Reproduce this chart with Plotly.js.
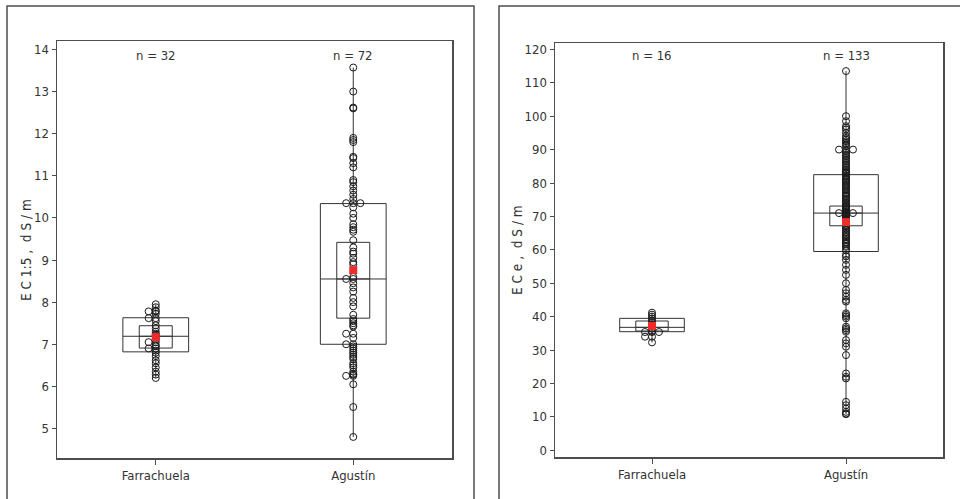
<!DOCTYPE html>
<html>
<head>
<meta charset="utf-8">
<script src="https://cdn.plot.ly/plotly-3.0.1.min.js"></script>
<style>
  html, body { margin: 0; padding: 0; background: #fff; }
  #chart { width: 960px; height: 499px; }
</style>
</head>
<body>
<div id="chart"></div>
<script>
// Site categories (shared by both panels)
const sites = ['Farrachuela', 'Agustín'];

// ---- Panel 1: EC 1:5 (dS/m) individual values ----
const ec15Farrachuela = [7.95, 7.88, 7.8, 7.78, 7.78, 7.72, 7.62, 7.62, 7.55, 7.45, 7.38, 7.3,
  7.25, 7.22, 7.2, 7.18, 7.12, 7.05, 7.05, 6.98, 6.95, 6.9, 6.9, 6.85, 6.8, 6.72, 6.62, 6.55,
  6.45, 6.35, 6.28, 6.2];
const ec15Agustin = [13.57, 13.0, 12.62, 12.6, 11.9, 11.85, 11.8, 11.45, 11.42, 11.3, 11.2,
  10.9, 10.85, 10.75, 10.65, 10.55, 10.45, 10.35, 10.35, 10.35,
  10.25, 10.1, 10.0, 9.85, 9.78, 9.72, 9.67, 9.47, 9.3, 9.2, 9.15, 9.05, 8.95, 8.9, 8.6, 8.55, 8.55,
  8.45, 8.35, 8.25, 8.1, 8.0, 7.9, 7.7, 7.6, 7.55, 7.5, 7.45, 7.42, 7.25, 7.25, 7.15, 7.0, 7.0,
  6.95, 6.9, 6.85, 6.8, 6.75, 6.7, 6.65, 6.55, 6.5, 6.45, 6.35, 6.3, 6.28, 6.25, 6.25, 6.05, 5.51, 4.8];

// Box summaries per site: quartiles, median, median CI, mean, extremes
const ec15Q1 = [6.82, 7.0];
const ec15Median = [7.19, 8.55];
const ec15Q3 = [7.63, 10.34];
const ec15CiLow = [6.91, 7.62];
const ec15CiHigh = [7.44, 9.42];
const ec15Mean = [7.17, 8.76];
const ec15Min = [6.2, 4.8];
const ec15Max = [7.95, 13.57];

// ---- Panel 2: ECe (dS/m) individual values ----
const eceFarrachuela = [41.2, 40.6, 40.0, 39.4, 38.8, 38.2, 37.6, 37.0, 36.4, 35.6, 35.4, 35.4,
  35.4, 34.0, 34.0, 32.3];
const eceAgustin = [
  113.5, 100.0, 98.5, 97.0, 96.5, 96.0, 95.0, 94.0, 93.5, 93.0, 92.5, 92.0, 91.5, 91.0,
  90.0, 90.0, 90.0, 89.5, 89.0, 88.5, 88.0, 87.5, 87.0, 86.5, 86.0, 85.5, 85.0, 84.5, 84.0,
  83.5, 83.2, 83.0, 82.8,
  82.2, 81.9, 81.5, 81.2, 80.8, 80.4, 80.1, 79.7, 79.3, 79.0, 78.6, 78.1, 77.8, 77.3, 76.9,
  76.5, 76.2, 75.9, 75.4, 75.0, 74.6, 74.1, 73.8, 73.4, 73.1, 72.9, 72.6, 72.2, 72.0, 71.6, 71.3,
  71.0, 71.0, 71.0,
  70.9, 70.8, 70.6, 70.5, 70.3, 70.1, 69.9, 69.6, 69.3, 69.1, 68.8, 68.4, 68.2, 67.9, 67.5,
  67.1, 66.8, 66.4, 65.9, 65.4, 65.1, 64.6, 64.2, 63.8, 63.3, 62.9, 62.4, 62.1, 61.8, 61.2,
  60.9, 60.3, 59.8,
  58.5, 58.0, 57.0, 55.5, 54.0, 52.5, 50.0, 48.0, 47.0, 46.0, 45.0, 44.5, 41.0, 40.5, 40.0,
  39.5, 37.0, 36.5, 36.0, 35.5, 33.0, 32.0, 31.0, 28.5, 23.0, 22.0, 21.5, 14.5, 13.5, 12.5,
  11.5, 11.0, 10.8];

const eceQ1 = [35.5, 59.5];
const eceMedian = [36.8, 71.0];
const eceQ3 = [39.5, 82.5];
const eceCiLow = [35.7, 67.2];
const eceCiHigh = [38.7, 73.1];
const eceMean = [37.2, 68.3];
const eceMin = [32.3, 10.8];
const eceMax = [41.2, 113.5];

// Axis titles
const nb = '\u00a0';
const ec15Title = ['E', 'C', '1:5', ','].join(nb) + nb + nb + ['d', 'S', '/', 'm'].join(nb);
const eceTitle = ['E', 'C', 'e', ','].join(nb) + nb + nb + ['d', 'S', '/', 'm'].join(nb);

// ---- drawing helpers ----
const FONT = '"Liberation Sans Narrow", "DejaVu Sans Condensed", "Liberation Sans", Arial, sans-serif';
const INK = '#333333';
const AXIS = '#4d4d4d';
const catPos = [0, 1];

// Tied values are spread sideways, one marker width apart, like a dot plot
function dodge(values, center, step) {
  const seen = {};
  return values.map(v => {
    const k = v.toFixed(3);
    const i = seen[k] || 0;
    seen[k] = i + 1;
    const side = i === 0 ? 0 : (i % 2 === 1 ? -1 : 1) * Math.ceil(i / 2);
    return center + side * step;
  });
}

function panelTraces(xa, ya, groups, q1, med, q3, ciLo, ciHi, mean, lo, hi) {
  const t = [];
  // interquartile boxes with whisker lines to the extremes
  t.push({
    type: 'box', xaxis: xa, yaxis: ya, x: catPos,
    q1: q1, median: med, q3: q3, lowerfence: lo, upperfence: hi,
    width: 0.333, whiskerwidth: 0, boxpoints: false,
    fillcolor: 'rgba(0,0,0,0)', line: { color: INK, width: 1 },
    hoverinfo: 'skip', showlegend: false
  });
  // median confidence interval boxes
  t.push({
    type: 'box', xaxis: xa, yaxis: ya, x: catPos,
    q1: ciLo, median: med, q3: ciHi, lowerfence: ciLo, upperfence: ciHi,
    width: 0.167, whiskerwidth: 0, boxpoints: false,
    fillcolor: 'rgba(0,0,0,0)', line: { color: INK, width: 1 },
    hoverinfo: 'skip', showlegend: false
  });
  // individual values
  groups.forEach((vals, i) => {
    t.push({
      type: 'scatter', mode: 'markers', xaxis: xa, yaxis: ya,
      x: dodge(vals, catPos[i], 0.036), y: vals,
      marker: { symbol: 'circle-open', size: 7, color: '#1a1a1a', line: { width: 1, color: '#1a1a1a' } },
      hoverinfo: 'y', showlegend: false
    });
  });
  // means, drawn over the points
  t.push({
    type: 'scatter', mode: 'markers', xaxis: xa, yaxis: ya,
    x: catPos, y: mean,
    marker: { symbol: 'square', size: 8, color: '#ee2a2a', line: { width: 0 } },
    hoverinfo: 'y', showlegend: false
  });
  return t;
}

const data = [].concat(
  panelTraces('x', 'y', [ec15Farrachuela, ec15Agustin],
    ec15Q1, ec15Median, ec15Q3, ec15CiLow, ec15CiHigh, ec15Mean, ec15Min, ec15Max),
  panelTraces('x2', 'y2', [eceFarrachuela, eceAgustin],
    eceQ1, eceMedian, eceQ3, eceCiLow, eceCiHigh, eceMean, eceMin, eceMax)
);

const W = 960, H = 499;
const px = v => v / W;
const py = v => 1 - v / H;

function xAxis(domain, anchor) {
  return {
    domain: domain, anchor: anchor, range: [-0.5, 1.5], tickmode: 'array',
    tickvals: catPos, ticktext: sites,
    showline: true, mirror: true, linecolor: AXIS, linewidth: 1.5,
    ticks: 'outside', ticklen: 5, tickcolor: AXIS, tickwidth: 1,
    showgrid: false, zeroline: false,
    tickfont: { family: FONT, size: 13, color: INK }
  };
}
function yAxis(domain, anchor, range, dtick) {
  return {
    domain: domain, anchor: anchor, range: range, dtick: dtick, tick0: 0,
    showline: true, mirror: true, linecolor: AXIS, linewidth: 1.5,
    ticks: 'outside', ticklen: 4, tickcolor: AXIS, tickwidth: 1,
    showgrid: false, zeroline: false,
    tickfont: { family: FONT, size: 13, color: INK }
  };
}

const txt = { family: FONT, size: 13, color: INK };
const nLabels = [
  ['x', 0, ec15Farrachuela], ['x', 1, ec15Agustin],
  ['x2', 0, eceFarrachuela], ['x2', 1, eceAgustin]
].map(([xr, i, vals]) => ({
  xref: xr, yref: 'paper', x: catPos[i], y: py(55), text: 'n = ' + vals.length,
  showarrow: false, yanchor: 'middle', xanchor: 'center', font: txt
}));

const layout = {
  width: W, height: H,
  margin: { l: 0, r: 0, t: 0, b: 0, pad: 0 },
  paper_bgcolor: '#ffffff', plot_bgcolor: '#ffffff',
  showlegend: false,
  xaxis: xAxis([px(57), px(452)], 'y'),
  yaxis: yAxis([py(458), py(41)], 'x', [4.3, 14.2], 1),
  xaxis2: xAxis([px(555), px(943)], 'y2'),
  yaxis2: yAxis([py(457), py(43)], 'x2', [-2, 121.9], 10),
  annotations: nLabels.concat([
    { xref: 'paper', yref: 'paper', x: px(26), y: py(250), text: ec15Title, textangle: -90,
      showarrow: false, xanchor: 'center', yanchor: 'middle',
      font: { family: FONT, size: 13.5, color: INK } },
    { xref: 'paper', yref: 'paper', x: px(517), y: py(250), text: eceTitle, textangle: -90,
      showarrow: false, xanchor: 'center', yanchor: 'middle',
      font: { family: FONT, size: 13.5, color: INK } }
  ]),
  // panel frames
  shapes: [
    { type: 'rect', xref: 'paper', yref: 'paper', x0: px(7), x1: px(474), y0: py(510), y1: py(6),
      line: { color: AXIS, width: 1.5 }, fillcolor: 'rgba(0,0,0,0)', layer: 'below' },
    { type: 'rect', xref: 'paper', yref: 'paper', x0: px(499), x1: px(975), y0: py(510), y1: py(6),
      line: { color: AXIS, width: 1.5 }, fillcolor: 'rgba(0,0,0,0)', layer: 'below' }
  ]
};

Plotly.newPlot('chart', data, layout, { staticPlot: true, displayModeBar: false });
</script>
</body>
</html>
